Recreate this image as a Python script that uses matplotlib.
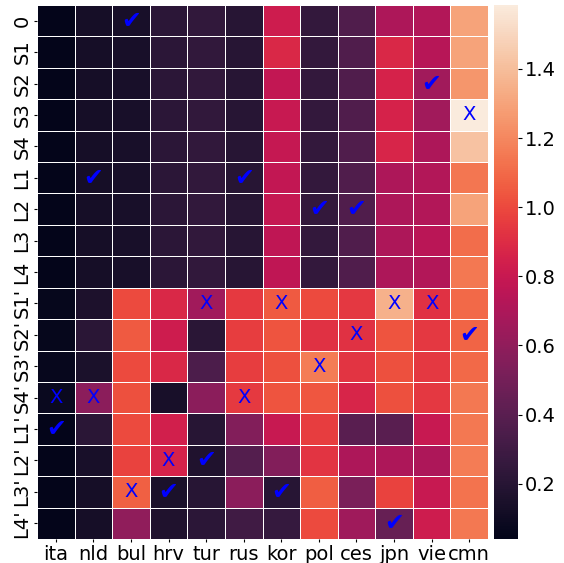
import matplotlib
matplotlib.use("Agg")
import matplotlib.pyplot as plt
import seaborn as sns
import numpy as np
import pandas as pd

rows = ["0", "S1", "S2", "S3", "S4", "L1", "L2", "L3", "L4",
        "S1'", "S2'", "S3'", "S4'", "L1'", "L2'", "L3'", "L4'"]
cols = ["ita", "nld", "bul", "hrv", "tur", "rus", "kor", "pol", "ces", "jpn", "vie", "cmn"]

ita = [0.05, 0.05, 0.05, 0.05, 0.05, 0.05, 0.05, 0.05, 0.05,
       0.06, 0.06, 0.07, 0.08, 0.05, 0.05, 0.05, 0.05]
nld = [0.13, 0.13, 0.13, 0.13, 0.13, 0.13, 0.13, 0.13, 0.13,
       0.16, 0.21, 0.15, 0.58, 0.21, 0.14, 0.13, 0.13]
bul = [0.14, 0.14, 0.14, 0.14, 0.14, 0.14, 0.14, 0.14, 0.14,
       1.00, 1.05, 1.00, 1.02, 1.00, 0.98, 1.07, 0.60]
hrv = [0.22, 0.22, 0.22, 0.22, 0.22, 0.22, 0.22, 0.22, 0.22,
       0.88, 0.82, 0.88, 0.14, 0.84, 0.86, 0.15, 0.17]
tur = [0.24, 0.24, 0.24, 0.24, 0.24, 0.24, 0.24, 0.24, 0.24,
       0.66, 0.21, 0.35, 0.58, 0.20, 0.17, 0.20, 0.22]
rus = [0.20, 0.20, 0.20, 0.20, 0.20, 0.20, 0.20, 0.20, 0.20,
       0.95, 0.96, 0.96, 0.95, 0.55, 0.38, 0.58, 0.30]
kor = [0.82, 0.88, 0.78, 0.80, 0.79, 0.78, 0.79, 0.77, 0.77,
       1.05, 1.03, 1.02, 1.03, 0.80, 0.55, 0.20, 0.26]
pol = [0.25, 0.25, 0.25, 0.25, 0.25, 0.25, 0.25, 0.25, 0.25,
       1.00, 0.92, 1.16, 1.04, 0.96, 0.93, 1.06, 1.00]
ces = [0.36, 0.36, 0.36, 0.36, 0.36, 0.36, 0.36, 0.36, 0.36,
       0.94, 0.92, 0.93, 0.87, 0.40, 0.70, 0.52, 0.65]
jpn = [0.70, 0.88, 0.86, 0.86, 0.87, 0.70, 0.70, 0.70, 0.70,
       1.35, 1.03, 1.02, 1.02, 0.40, 0.70, 0.98, 0.45]
vie = [0.72, 0.74, 0.66, 0.66, 0.70, 0.72, 0.72, 0.75, 0.72,
       0.92, 0.94, 0.94, 0.94, 0.80, 0.70, 0.80, 0.82]
cmn = [1.30, 1.30, 1.25, 1.58, 1.42, 1.14, 1.30, 1.11, 1.15,
       1.10, 1.08, 1.10, 1.15, 1.15, 1.16, 1.13, 1.15]

# marks: (row label, column label)
check_cells = [("0", "bul"), ("L1", "nld"), ("L1", "rus"), ("L2", "pol"), ("L2", "ces"),
               ("S2", "vie"), ("S2'", "cmn"), ("L1'", "ita"), ("L2'", "tur"),
               ("L3'", "hrv"), ("L3'", "kor"), ("L4'", "jpn")]
cross_cells = [("S3", "cmn"), ("S1'", "tur"), ("S1'", "kor"), ("S1'", "jpn"), ("S1'", "vie"),
               ("S2'", "ces"), ("S3'", "pol"), ("S4'", "ita"), ("S4'", "nld"), ("S4'", "rus"),
               ("L2'", "hrv"), ("L3'", "bul")]

data = pd.DataFrame(np.array([ita, nld, bul, hrv, tur, rus, kor, pol, ces, jpn, vie, cmn]).T,
                    index=rows, columns=cols)

fig = plt.figure(figsize=(5.64, 5.63), dpi=100)
ax = fig.add_axes([37/564, 1 - 539/563, (488-37)/564, (539-5)/563])
cax = fig.add_axes([494/564, 1 - 539/563, 24/564, (539-5)/563])

sns.heatmap(data, ax=ax, cbar_ax=cax, cmap="rocket", vmin=0.04, vmax=1.585,
            linewidths=0.6, linecolor="white")

for r, c in check_cells:
    ax.text(cols.index(c) + 0.5, rows.index(r) + 0.5, "\u2714", color="blue",
            fontsize=17, ha="center", va="center")
for r, c in cross_cells:
    ax.text(cols.index(c) + 0.5, rows.index(r) + 0.5, "X", color="blue",
            fontsize=14, ha="center", va="center")

ax.tick_params(axis="both", labelsize=14, length=2, pad=2)
ax.set_xticklabels(cols, rotation=0)
ax.set_yticklabels(rows, rotation=90, va="center")
cax.tick_params(labelsize=14, length=3, pad=2)

fig.savefig("out.png", dpi=100)
